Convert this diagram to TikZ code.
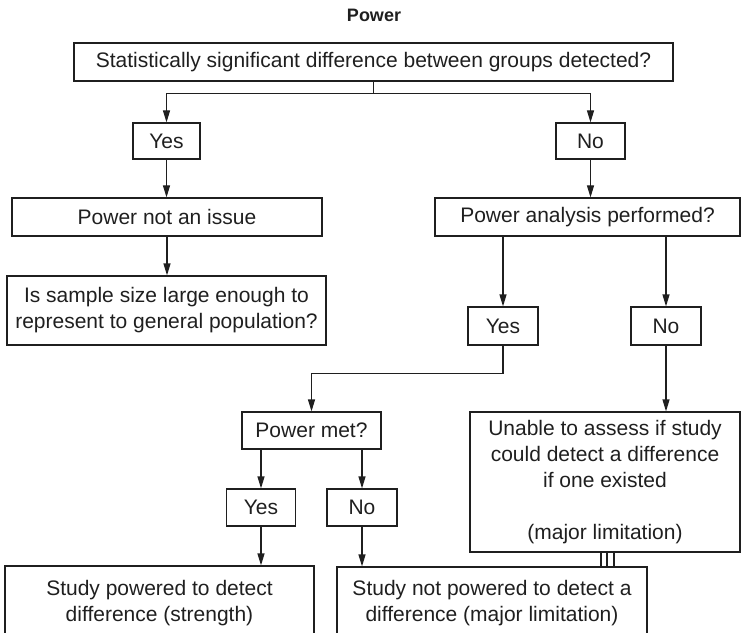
\documentclass[tikz,border=0pt]{standalone}
\usepackage{fontspec}
\setmainfont{Liberation Sans}
\usetikzlibrary{arrows.meta}
\begin{document}
\begin{tikzpicture}[x=1bp,y=-1bp,
  ink/.style={draw=black!88, line width=1.2bp},
  box/.style={ink, rectangle, inner sep=0pt, align=center,
    font=\fontsize{21bp}{26bp}\selectfont, text=black!88},
  flow/.style={ink, -{Triangle[length=12bp,width=7bp]}},
  link/.style={ink}
]
\clip (0,0) rectangle (741,633);

% heading
\node[font=\fontsize{18bp}{21bp}\selectfont\bfseries, text=black!88] (title) at (374,15) {Power};

% first question and its two answers
\node[box, minimum width=599bp, minimum height=38bp] (top) at (373.5,62)
  {Statistically significant difference between groups detected?};
\node[box, minimum width=67bp, minimum height=36bp] (yes1) at (166.5,141) {Yes};
\node[box, minimum width=69bp, minimum height=36bp] (no1) at (590.5,141) {No};

% left branch
\node[box, minimum width=310bp, minimum height=38bp] (notissue) at (167,217) {Power not an issue};
\node[box, minimum width=319bp, minimum height=69bp] (sample) at (166.5,310.5)
  {Is sample size large enough to\\represent to general population?};

% right branch
\node[box, minimum width=305bp, minimum height=38bp] (analysis) at (587.5,217) {Power analysis performed?};
\node[box, minimum width=70bp, minimum height=38bp] (yes2) at (503,326) {Yes};
\node[box, minimum width=70bp, minimum height=38bp] (no2) at (666,326) {No};

\node[box, minimum width=139bp, minimum height=37bp] (met) at (311.5,430.5) {Power met?};
\node[box, minimum width=69bp, minimum height=37bp] (yes3) at (261,507.5) {Yes};
\node[box, minimum width=70bp, minimum height=37bp] (no3) at (362,507.5) {No};

\node[box, minimum width=270bp, minimum height=140bp] (unable) at (605,482)
  {Unable to assess if study\\could detect a difference\\if one existed\\[26bp](major limitation)};

% outcome boxes, running past the lower edge
\node[box, minimum width=309bp, minimum height=74bp] (strength) at (159.5,603)
  {Study powered to detect\\difference (strength)};
\node[box, minimum width=310bp, minimum height=72bp] (notpowered) at (492,603)
  {Study not powered to detect a\\difference (major limitation)};

% connectors
\draw[link] (top.south) -- ++(0,12) coordinate (split);
\draw[flow] (split) -| (yes1.north);
\draw[flow] (split) -| (no1.north);
\draw[flow] (yes1.south) -- (yes1.south |- notissue.north);
\draw[flow] (notissue.south) -- (notissue.south |- sample.north);
\draw[flow] (no1.south) -- (no1.south |- analysis.north);
\draw[flow] (yes2.north |- analysis.south) -- (yes2.north);
\draw[flow] (no2.north |- analysis.south) -- (no2.north);
\draw[flow] (yes2.south) -- ++(0,28) -| (met.north);
\draw[flow] (yes3.north |- met.south) -- (yes3.north);
\draw[flow] (no3.north |- met.south) -- (no3.north);
\draw[flow] (yes3.south) -- (yes3.south |- strength.north);
\draw[flow] (no3.south) -- (no3.south |- notpowered.north);
\draw[flow] (no2.south) -- (no2.south |- unable.north);
\foreach \dx in {-4,2,9}
  \draw[link] ([xshift=\dx bp]unable.south) -- ([xshift=\dx bp]unable.south |- notpowered.north);
\end{tikzpicture}
\end{document}
